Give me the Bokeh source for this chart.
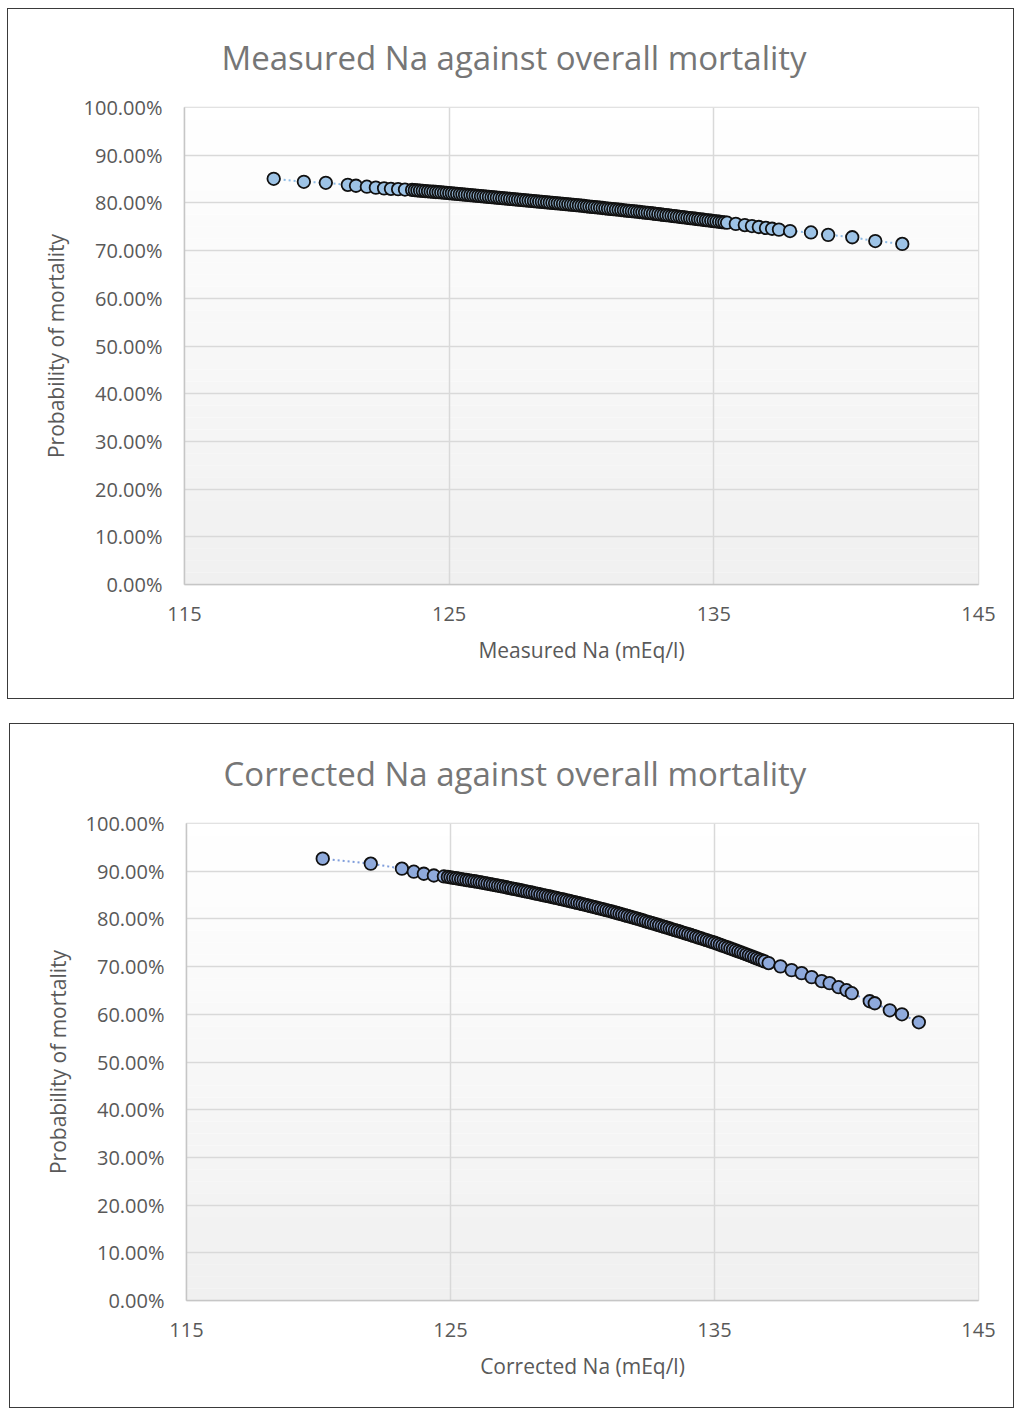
from bokeh.plotting import figure
from bokeh.models import ColumnDataSource, NumeralTickFormatter, FixedTicker, Range1d, BoxAnnotation
from bokeh.layouts import column
from bokeh.embed import file_html
from bokeh.resources import INLINE

# ---------------- data ----------------
measured_na = [
    118.37, 119.51, 120.34, 121.17, 121.48, 121.89, 122.23, 122.54, 122.80, 123.07, 123.33,
    123.6, 123.7, 123.8, 123.9, 124.0, 124.1, 124.2, 124.3, 124.4, 124.5, 124.6, 124.7, 124.8, 124.9,
    125.0, 125.1, 125.2, 125.3, 125.4, 125.5, 125.6, 125.7, 125.8, 125.9,
    126.0, 126.1, 126.2, 126.3, 126.4, 126.5, 126.6, 126.7, 126.8, 126.9,
    127.0, 127.1, 127.2, 127.3, 127.4, 127.5, 127.6, 127.7, 127.8, 127.9,
    128.0, 128.1, 128.2, 128.3, 128.4, 128.5, 128.6, 128.7, 128.8, 128.9,
    129.0, 129.1, 129.2, 129.3, 129.4, 129.5, 129.6, 129.7, 129.8, 129.9,
    130.0, 130.1, 130.2, 130.3, 130.4, 130.5, 130.6, 130.7, 130.8, 130.9,
    131.0, 131.1, 131.2, 131.3, 131.4, 131.5, 131.6, 131.7, 131.8, 131.9,
    132.0, 132.1, 132.2, 132.3, 132.4, 132.5, 132.6, 132.7, 132.8, 132.9,
    133.0, 133.1, 133.2, 133.3, 133.4, 133.5, 133.6, 133.7, 133.8, 133.9,
    134.0, 134.1, 134.2, 134.3, 134.4, 134.5, 134.6, 134.7, 134.8, 134.9,
    135.0, 135.1, 135.2, 135.3, 135.4,
    135.50, 135.83, 136.17, 136.44, 136.70, 136.97, 137.20, 137.46, 137.88,
    138.67, 139.32, 140.23, 141.10, 142.12,
]
measured_mortality_pct = [
    85.05, 84.42, 84.21, 83.79, 83.60, 83.40, 83.20, 83.05, 82.95, 82.88, 82.80,
    82.72, 82.67, 82.62, 82.58, 82.53, 82.48, 82.43, 82.38, 82.34, 82.29, 82.24, 82.19, 82.14, 82.10,
    82.05, 82.00, 81.94, 81.89, 81.84, 81.79, 81.73, 81.68, 81.63, 81.58,
    81.52, 81.47, 81.42, 81.37, 81.31, 81.26, 81.21, 81.16, 81.10, 81.05,
    81.00, 80.95, 80.90, 80.84, 80.79, 80.74, 80.69, 80.64, 80.58, 80.53,
    80.48, 80.43, 80.38, 80.32, 80.27, 80.22, 80.17, 80.12, 80.06, 80.01,
    79.96, 79.91, 79.86, 79.80, 79.75, 79.70, 79.65, 79.59, 79.53, 79.47,
    79.41, 79.35, 79.29, 79.23, 79.17, 79.11, 79.05, 78.99, 78.93, 78.87,
    78.81, 78.75, 78.69, 78.63, 78.57, 78.51, 78.45, 78.39, 78.33, 78.27,
    78.21, 78.15, 78.09, 78.03, 77.97, 77.91, 77.85, 77.78, 77.71, 77.64,
    77.57, 77.50, 77.43, 77.37, 77.30, 77.23, 77.16, 77.09, 77.02, 76.95,
    76.88, 76.81, 76.74, 76.68, 76.61, 76.54, 76.47, 76.40, 76.33, 76.26,
    76.19, 76.12, 76.05, 75.99, 75.92,
    75.85, 75.60, 75.35, 75.15, 74.95, 74.75, 74.58, 74.40, 74.10,
    73.80, 73.30, 72.80, 72.00, 71.40,
]

corrected_na = [
    120.16, 121.98, 123.16, 123.61, 123.99, 124.37, 124.75,
    124.9,
    125.0, 125.1, 125.2, 125.3, 125.4, 125.5, 125.6, 125.7, 125.8, 125.9,
    126.0, 126.1, 126.2, 126.3, 126.4, 126.5, 126.6, 126.7, 126.8, 126.9,
    127.0, 127.1, 127.2, 127.3, 127.4, 127.5, 127.6, 127.7, 127.8, 127.9,
    128.0, 128.1, 128.2, 128.3, 128.4, 128.5, 128.6, 128.7, 128.8, 128.9,
    129.0, 129.1, 129.2, 129.3, 129.4, 129.5, 129.6, 129.7, 129.8, 129.9,
    130.0, 130.1, 130.2, 130.3, 130.4, 130.5, 130.6, 130.7, 130.8, 130.9,
    131.0, 131.1, 131.2, 131.3, 131.4, 131.5, 131.6, 131.7, 131.8, 131.9,
    132.0, 132.1, 132.2, 132.3, 132.4, 132.5, 132.6, 132.7, 132.8, 132.9,
    133.0, 133.1, 133.2, 133.3, 133.4, 133.5, 133.6, 133.7, 133.8, 133.9,
    134.0, 134.1, 134.2, 134.3, 134.4, 134.5, 134.6, 134.7, 134.8, 134.9,
    135.0, 135.1, 135.2, 135.3, 135.4, 135.5, 135.6, 135.7, 135.8, 135.9,
    136.0, 136.1, 136.2, 136.3, 136.4, 136.5, 136.6, 136.7, 136.8, 136.9,
    137.05, 137.50, 137.92, 138.30, 138.68, 139.06, 139.36, 139.70, 140.00, 140.20,
    140.88, 141.07, 141.64, 142.10, 142.74,
]
corrected_mortality_pct = [
    92.63, 91.58, 90.53, 89.89, 89.47, 89.10, 88.90,
    88.80,
    88.71, 88.62, 88.53, 88.44, 88.35, 88.25, 88.16, 88.07, 87.98, 87.89,
    87.80, 87.70, 87.59, 87.49, 87.38, 87.28, 87.17, 87.07, 86.96, 86.86,
    86.75, 86.64, 86.52, 86.41, 86.29, 86.18, 86.06, 85.95, 85.83, 85.72,
    85.60, 85.48, 85.36, 85.24, 85.12, 85.00, 84.88, 84.76, 84.64, 84.52,
    84.40, 84.27, 84.14, 84.01, 83.88, 83.75, 83.62, 83.49, 83.36, 83.23,
    83.10, 82.96, 82.82, 82.68, 82.54, 82.40, 82.26, 82.12, 81.98, 81.84,
    81.70, 81.55, 81.39, 81.24, 81.08, 80.93, 80.77, 80.62, 80.46, 80.31,
    80.15, 79.99, 79.82, 79.66, 79.49, 79.33, 79.16, 79.00, 78.83, 78.67,
    78.50, 78.33, 78.16, 77.99, 77.82, 77.65, 77.48, 77.31, 77.14, 76.97,
    76.80, 76.62, 76.44, 76.26, 76.08, 75.90, 75.72, 75.54, 75.36, 75.18,
    75.00, 74.80, 74.60, 74.40, 74.20, 74.00, 73.80, 73.60, 73.40, 73.20,
    73.00, 72.79, 72.58, 72.37, 72.16, 71.94, 71.73, 71.52, 71.31, 71.10,
    70.74, 70.05, 69.26, 68.63, 67.79, 66.95, 66.53, 65.68, 65.05, 64.42,
    62.74, 62.32, 60.84, 60.00, 58.32,
]

x_ticks = [115, 125, 135, 145]
y_ticks = [0.0, 0.1, 0.2, 0.3, 0.4, 0.5, 0.6, 0.7, 0.8, 0.9, 1.0]

FONT = "Open Sans"
TXT = "#595959"
FRAME_H = 475


def hex_mix(c1, c2, t):
    a = [int(c1[i:i + 2], 16) for i in (1, 3, 5)]
    b = [int(c2[i:i + 2], 16) for i in (1, 3, 5)]
    m = [round(a[k] + (b[k] - a[k]) * t) for k in range(3)]
    return "#%02x%02x%02x" % tuple(m)


def make_chart(title, xlabel, xs, ys_pct, fill, line_col, width, height, left, top, frame_w, margin):
    p = figure(width=width, height=height,
               x_range=Range1d(115, 145), y_range=Range1d(0, 1),
               output_backend="svg", toolbar_location=None,
               min_border_left=left, min_border_right=width - 2 - left - frame_w,
               min_border_top=top, min_border_bottom=height - 2 - top - FRAME_H)
    p.margin = margin
    p.styles = {"border": "1px solid #3a3a3a"}
    p.background_fill_color = "white"
    p.border_fill_color = "white"
    p.outline_line_color = "#d9d9d9"
    p.outline_line_width = 1.5

    # plot-area gradient (white at top to light grey at bottom)
    n = 40
    for i in range(n):
        t = (i + 0.5) / n
        p.add_layout(BoxAnnotation(bottom=i / n, top=(i + 1) / n,
                                   fill_color=hex_mix("#f0f0f0", "#ffffff", t), fill_alpha=1.0,
                                   line_color=None, level="image"))

    p.title.text = title
    p.title.text_font = FONT
    p.title.text_font_size = "33px"
    p.title.text_font_style = "normal"
    p.title.text_color = "#767676"
    p.title.align = "left"
    p.title.vertical_align = "top"
    p.title.offset = 37
    p.title.standoff = 51

    p.xaxis.ticker = FixedTicker(ticks=x_ticks)
    p.yaxis.ticker = FixedTicker(ticks=y_ticks)
    p.yaxis.formatter = NumeralTickFormatter(format="0.00%")
    p.xgrid.ticker = FixedTicker(ticks=x_ticks)
    p.ygrid.ticker = FixedTicker(ticks=y_ticks)
    p.grid.grid_line_color = "#d9d9d9"
    p.grid.grid_line_width = 1.5

    for ax in (p.xaxis, p.yaxis):
        ax.axis_line_color = "#c6c6c6"
        ax.axis_line_width = 1.5
        ax.major_tick_line_color = None
        ax.minor_tick_line_color = None
        ax.major_label_text_font = FONT
        ax.major_label_text_font_size = "20px"
        ax.major_label_text_color = TXT
        ax.axis_label_text_font = FONT
        ax.axis_label_text_font_size = "21px"
        ax.axis_label_text_font_style = "normal"
        ax.axis_label_text_color = TXT
    p.xaxis.axis_label = xlabel
    p.yaxis.axis_label = "Probability of mortality"
    p.xaxis.major_label_standoff = 16
    p.yaxis.major_label_standoff = 16
    p.xaxis.axis_label_standoff = 12
    p.yaxis.axis_label_standoff = 11

    src = ColumnDataSource(dict(x=xs, y=[v / 100.0 for v in ys_pct]))
    p.line("x", "y", source=src, line_color=line_col, line_width=2, line_dash="2 3")
    p.scatter("x", "y", source=src, marker="circle", size=12.5,
              fill_color=fill, line_color="#111111", line_width=1.8)
    return p


p1 = make_chart("Measured Na against overall mortality", "Measured Na (mEq/l)",
                measured_na, measured_mortality_pct, "#9dc3e6", "#8dbbe6",
                1007, 691, 175, 98, 793, (8, 0, 0, 7))
p2 = make_chart("Corrected Na against overall mortality", "Corrected Na (mEq/l)",
                corrected_na, corrected_mortality_pct, "#8faadc", "#7f9ddb",
                1005, 685, 176, 99, 791, (0, 0, 0, 9))

layout = column(p1, p2, spacing=24)
open("out.html", "w").write(file_html(layout, INLINE))
